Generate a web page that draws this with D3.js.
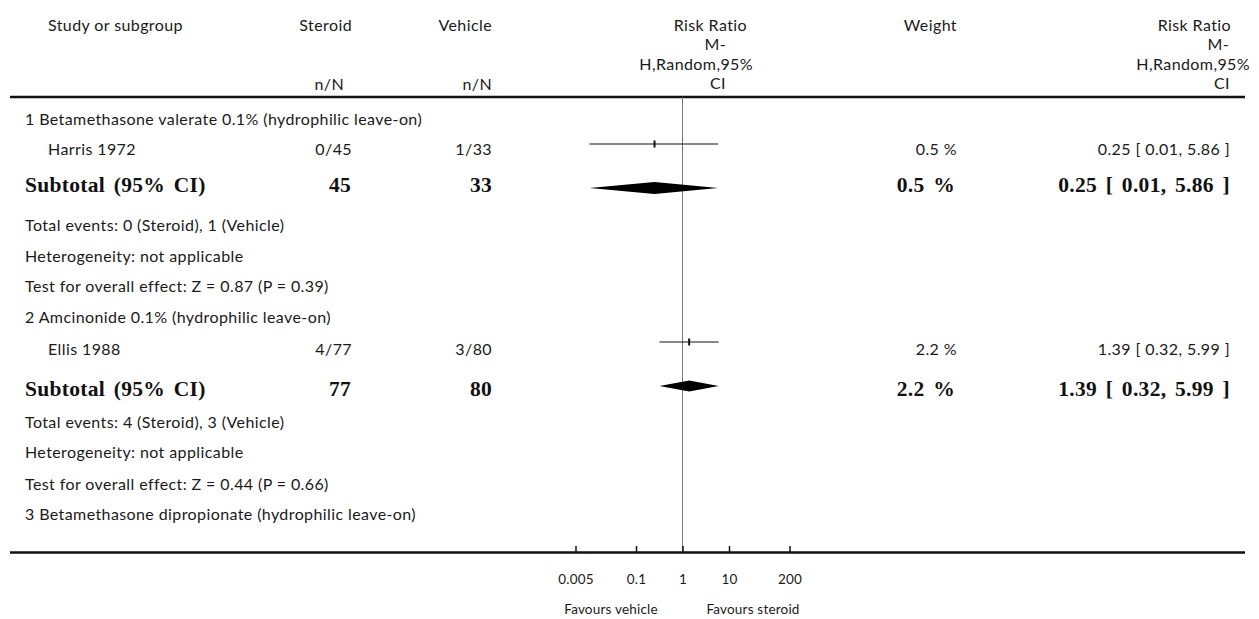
<!DOCTYPE html>
<html lang="en">
<head>
<meta charset="UTF-8">
<title>Forest plot</title>
<script src="https://cdnjs.cloudflare.com/ajax/libs/d3/7.8.5/d3.min.js"></script>
<style>
    body { margin: 0; background: #fff; }
    svg text { font-family: Lato, "Open Sans", sans-serif; font-size: 16px; letter-spacing: 0.4px; fill: #1a1a1a; }
    svg text.bold { font-family: "Liberation Serif", "DejaVu Serif", serif; font-weight: bold; font-size: 21.5px;
                    letter-spacing: 0.3px; word-spacing: 3px; fill: #111; }
    svg text.small { font-size: 13.5px; letter-spacing: 0.2px; }
</style>
</head>
<body>
<svg width="1259" height="619"></svg>
<script>
// ---- data ----
var groups = ["1 Betamethasone valerate 0.1% (hydrophilic leave-on)",
              "2 Amcinonide 0.1% (hydrophilic leave-on)",
              "3 Betamethasone dipropionate (hydrophilic leave-on)"];
var studies = ["Harris 1972", "Ellis 1988"];
var steroidEvents = [0, 4];
var steroidTotal = [45, 77];
var vehicleEvents = [1, 3];
var vehicleTotal = [33, 80];
var riskRatio = [0.25, 1.39];
var ciLower = [0.01, 0.32];
var ciUpper = [5.86, 5.99];
var weights = [0.5, 2.2];
var zValues = [0.87, 0.44];
var pValues = [0.39, 0.66];
var tickValues = [0.005, 0.1, 1, 10, 200];
var tickLabels = ["0.005", "0.1", "1", "10", "200"];

var svg = d3.select("svg");

// log scale for the risk ratio panel
var x = d3.scaleLog().domain([0.005, 200]).range([575.5, 789.5]);

var fmt2 = d3.format(".2f");

function txt(s, xx, yy, anchor, cls) {
    return svg.append("text").attr("x", xx).attr("y", yy)
        .attr("text-anchor", anchor || "start")
        .attr("class", cls || null).text(s);
}

// header
txt("Study or subgroup", 48, 31);
txt("Steroid", 352, 31, "end");
txt("n/N", 344, 90, "end");
txt("Vehicle", 492, 31, "end");
txt("n/N", 492, 90, "end");
txt("Risk Ratio", 747, 31, "end");
txt("M-", 726, 50, "end");
txt("H,Random,95%", 753, 70, "end");
txt("CI", 726, 89, "end");
txt("Weight", 957, 31, "end");
txt("Risk Ratio", 1231, 31, "end");
txt("M-", 1229, 50, "end");
txt("H,Random,95%", 1250, 70, "end");
txt("CI", 1230, 89, "end");

// rules
svg.append("line").attr("x1", 10).attr("x2", 1245).attr("y1", 97).attr("y2", 97)
    .attr("stroke", "#111").attr("stroke-width", 2.5);
svg.append("line").attr("x1", x(1)).attr("x2", x(1)).attr("y1", 97).attr("y2", 552)
    .attr("stroke", "#777").attr("stroke-width", 1);

// row baselines per subgroup: [group, study, subtotal, events, het, test]
var rowY = [[125, 155, 192, 231, 262, 292], [323, 355, 396, 428, 458, 490]];
var markY = [144, 342];
var diamondY = [188, 386];

studies.forEach(function (s, i) {
    var r = rowY[i];
    txt(groups[i], 25, r[0]);
    txt(s, 48, r[1]);
    txt(steroidEvents[i] + "/" + steroidTotal[i], 352, r[1], "end");
    txt(vehicleEvents[i] + "/" + vehicleTotal[i], 492, r[1], "end");
    txt(weights[i].toFixed(1) + " %", 957, r[1], "end");
    var ci = fmt2(riskRatio[i]) + " [ " + fmt2(ciLower[i]) + ", " + fmt2(ciUpper[i]) + " ]";
    txt(ci, 1230, r[1], "end");

    txt("Subtotal (95% CI)", 25, r[2], "start", "bold");
    txt(steroidTotal[i], 351, r[2], "end", "bold");
    txt(vehicleTotal[i], 492, r[2], "end", "bold");
    txt(weights[i].toFixed(1) + " %", 955, r[2], "end", "bold");
    txt(ci, 1230, r[2], "end", "bold");

    txt("Total events: " + steroidEvents[i] + " (Steroid), " + vehicleEvents[i] + " (Vehicle)", 25, r[3]);
    txt("Heterogeneity: not applicable", 25, r[4]);
    txt("Test for overall effect: Z = " + fmt2(zValues[i]) + " (P = " + fmt2(pValues[i]) + ")", 25, r[5]);

    // study CI and point
    svg.append("line").attr("x1", x(ciLower[i])).attr("x2", x(ciUpper[i]))
        .attr("y1", markY[i]).attr("y2", markY[i]).attr("stroke", "#111").attr("stroke-width", 1.2);
    svg.append("rect").attr("x", x(riskRatio[i]) - 1).attr("y", markY[i] - 3.5)
        .attr("width", 2).attr("height", 7).attr("fill", "#111");

    // pooled diamond
    var dy = diamondY[i], h = i === 0 ? 6 : 5.5;
    svg.append("path")
        .attr("d", "M" + x(ciLower[i]) + "," + dy + "L" + x(riskRatio[i]) + "," + (dy - h) +
              "L" + x(ciUpper[i]) + "," + dy + "L" + x(riskRatio[i]) + "," + (dy + h) + "Z")
        .attr("fill", "#000");
});
txt(groups[2], 25, 520);

// bottom rule / axis
svg.append("line").attr("x1", 10).attr("x2", 1245).attr("y1", 552.5).attr("y2", 552.5)
    .attr("stroke", "#111").attr("stroke-width", 2.5);

var axis = d3.axisTop(x).tickValues(tickValues).tickSize(6)
    .tickFormat(function (d, i) { return tickLabels[i]; });
var ag = svg.append("g").attr("transform", "translate(0,552)").call(axis);
ag.select(".domain").remove();
ag.selectAll(".tick line").attr("stroke", "#111").attr("stroke-width", 1.5);
ag.selectAll(".tick text").attr("y", 32).attr("class", "small")
    .style("font-family", "Lato, sans-serif").attr("fill", "#1a1a1a");

txt("Favours vehicle", 611, 614, "middle", "small");
txt("Favours steroid", 753, 614, "middle", "small");
</script>
</body>
</html>
